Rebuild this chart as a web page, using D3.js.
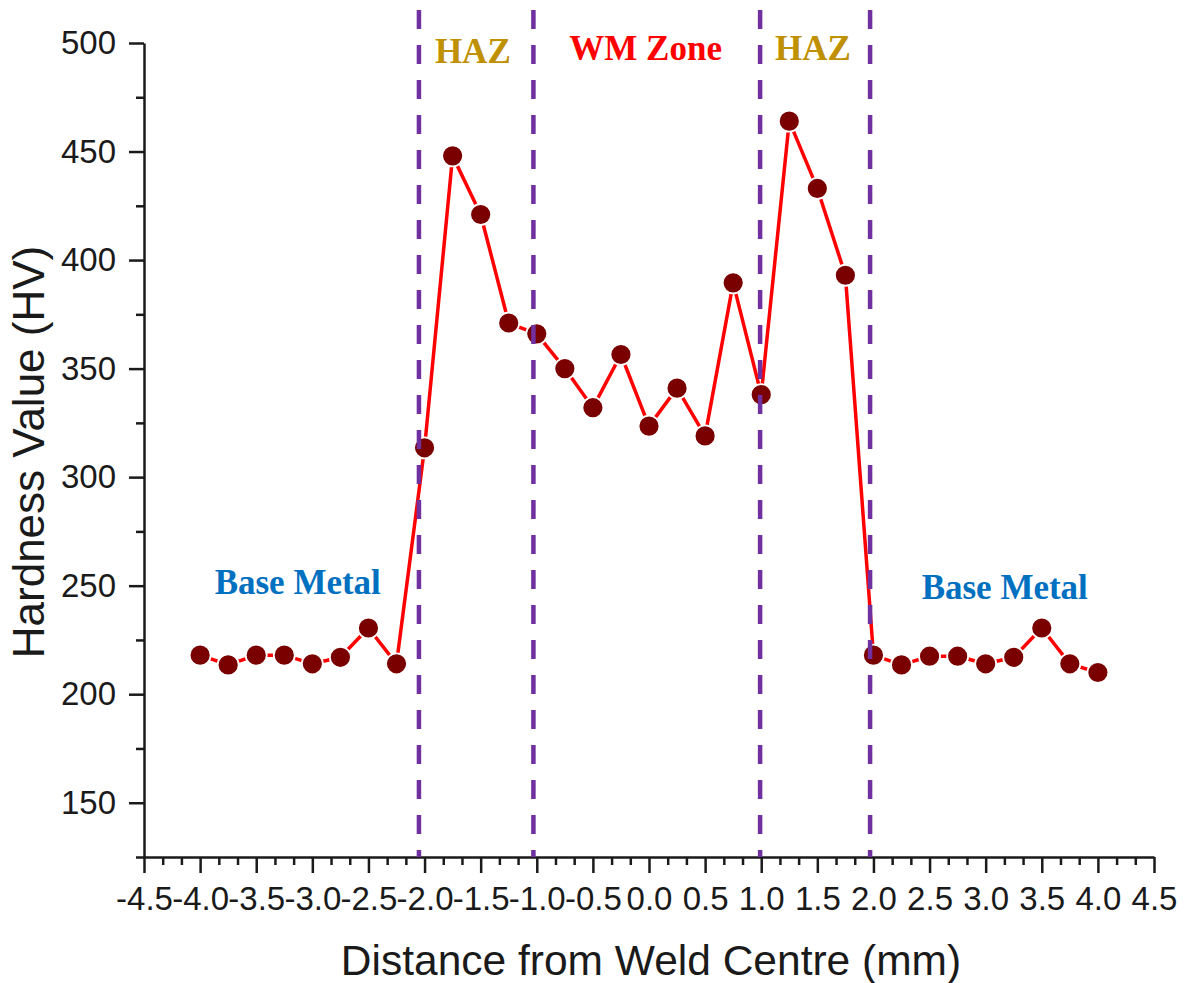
<!DOCTYPE html>
<html>
<head>
<meta charset="utf-8">
<script src="https://cdn.jsdelivr.net/npm/d3@7"></script>
<style>
  body { margin: 0; background: #fff; }
  svg { display: block; }
</style>
</head>
<body>
<div id="chart"></div>
<script>
// Hardness profile across the weld
const distance = [-4.0, -3.75, -3.5, -3.25, -3.0, -2.75, -2.5, -2.25, -2.0, -1.75, -1.5, -1.25,
                  -1.0, -0.75, -0.5, -0.25, 0.0, 0.25, 0.5, 0.75, 1.0, 1.25, 1.5, 1.75,
                  2.0, 2.25, 2.5, 2.75, 3.0, 3.25, 3.5, 3.75, 4.0];
const hardness = [218, 213.5, 218, 218, 214, 217, 230.5, 214, 313.5, 448, 421, 371,
                  366, 350, 332, 356.5, 323.5, 341, 319, 389.5, 338, 464, 433, 393,
                  218, 213.5, 217.5, 217.5, 214, 217, 230.5, 214, 210];

// zone boundaries (mm)
const zoneBounds = [-2.05, -1.03, 0.99, 1.97];

const xTicks = [-4.5, -4.0, -3.5, -3.0, -2.5, -2.0, -1.5, -1.0, -0.5, 0.0, 0.5, 1.0, 1.5, 2.0, 2.5, 3.0, 3.5, 4.0, 4.5];
const yTicks = [150, 200, 250, 300, 350, 400, 450, 500];

const zoneNames = ["HAZ", "WM Zone", "HAZ", "Base Metal", "Base Metal"];

const data = distance.map((d, i) => ({ x: d, y: hardness[i] }));

const width = 1193;
const height = 983;
const margin = { top: 43, right: 39, bottom: 126, left: 144 };

const x = d3.scaleLinear()
    .domain([-4.5, 4.5])
    .range([margin.left, width - margin.right]);

const y = d3.scaleLinear()
    .domain([125, 500])
    .range([height - margin.bottom, margin.top]);

const svg = d3.select("#chart").append("svg")
    .attr("width", width)
    .attr("height", height)
    .style("font-family", "'Liberation Sans', Arial, sans-serif");

const fmt = d => d3.format(".1f")(d).replace("\u2212", "-");

// minor ticks: two between each major on x, one on y
const xMinor = [];
for (let i = 0; i < xTicks.length - 1; i++) {
    const step = (xTicks[i + 1] - xTicks[i]) / 3;
    xMinor.push(xTicks[i] + step, xTicks[i] + 2 * step);
}
const yMinor = [125].concat(yTicks.slice(0, -1).map(v => v + 25));

const xAxisG = svg.append("g")
    .attr("transform", `translate(0,${height - margin.bottom})`);

xAxisG.append("g")
    .call(d3.axisBottom(x).tickValues(xMinor).tickSize(8).tickSizeOuter(0).tickFormat(""))
    .call(g => g.select(".domain").remove());

xAxisG.append("g")
    .call(d3.axisBottom(x).tickValues(xTicks).tickSize(16).tickSizeOuter(0).tickPadding(14).tickFormat(fmt))
    .style("font-size", "33px")
    .style("font-family", "'Liberation Sans', Arial, sans-serif");

const yAxisG = svg.append("g")
    .attr("transform", `translate(${margin.left},0)`);

yAxisG.append("g")
    .call(d3.axisLeft(y).tickValues(yMinor).tickSize(8).tickSizeOuter(0).tickFormat(""))
    .call(g => g.select(".domain").remove());

yAxisG.append("g")
    .call(d3.axisLeft(y).tickValues(yTicks).tickSize(15).tickSizeOuter(0).tickPadding(13).tickFormat(d3.format("d")))
    .style("font-size", "33px")
    .style("font-family", "'Liberation Sans', Arial, sans-serif");

svg.selectAll(".domain, .tick line")
    .attr("stroke", "#1a1a1a")
    .attr("stroke-width", 2.5);
svg.selectAll(".tick text").attr("fill", "#1a1a1a");

// axis titles
svg.append("text")
    .attr("x", (x(-4.5) + x(4.5)) / 2 + 2)
    .attr("y", 975)
    .attr("text-anchor", "middle")
    .style("font-size", "42.5px")
    .attr("fill", "#1a1a1a")
    .text("Distance from Weld Centre (mm)");

svg.append("text")
    .attr("transform", `translate(44,${(y(125) + y(500)) / 2 + 2}) rotate(-90)`)
    .attr("text-anchor", "middle")
    .style("font-size", "44px")
    .attr("fill", "#1a1a1a")
    .text("Hardness Value (HV)");

// profile line
const line = d3.line().x(d => x(d.x)).y(d => y(d.y));

svg.append("path")
    .datum(data)
    .attr("fill", "none")
    .attr("stroke", "#ff0000")
    .attr("stroke-width", 3.5)
    .attr("stroke-linejoin", "round")
    .attr("d", line);

svg.selectAll("circle.pt")
    .data(data)
    .join("circle")
    .attr("class", "pt")
    .attr("cx", d => x(d.x))
    .attr("cy", d => y(d.y))
    .attr("r", 10.5)
    .attr("fill", "#7a0000")
    .attr("stroke", "#fff")
    .attr("stroke-width", 1.8);

// zone boundaries, drawn over the markers
svg.selectAll("line.zone")
    .data(zoneBounds)
    .join("line")
    .attr("class", "zone")
    .attr("x1", d => x(d))
    .attr("x2", d => x(d))
    .attr("y1", 10)
    .attr("y2", y(125))
    .attr("stroke", "#7030a0")
    .attr("stroke-width", 4.5)
    .attr("stroke-dasharray", "19,16");

// zone annotations
const annot = [
    { name: zoneNames[0], x: -1.57, y: 490.6, color: "#bf9000" },
    { name: zoneNames[1], x: -0.03, y: 492, color: "#ff0000" },
    { name: zoneNames[2], x: 1.46, y: 492, color: "#bf9000" },
    { name: zoneNames[3], x: -3.13, y: 246, color: "#0070c0" },
    { name: zoneNames[4], x: 3.17, y: 244, color: "#0070c0" }
];

svg.selectAll("text.zone-label")
    .data(annot)
    .join("text")
    .attr("class", "zone-label")
    .attr("x", d => x(d.x))
    .attr("y", d => y(d.y))
    .attr("text-anchor", "middle")
    .attr("fill", d => d.color)
    .style("font-family", "'Liberation Serif', 'Times New Roman', serif")
    .style("font-weight", "bold")
    .style("font-size", "35px")
    .text(d => d.name);
</script>
</body>
</html>
